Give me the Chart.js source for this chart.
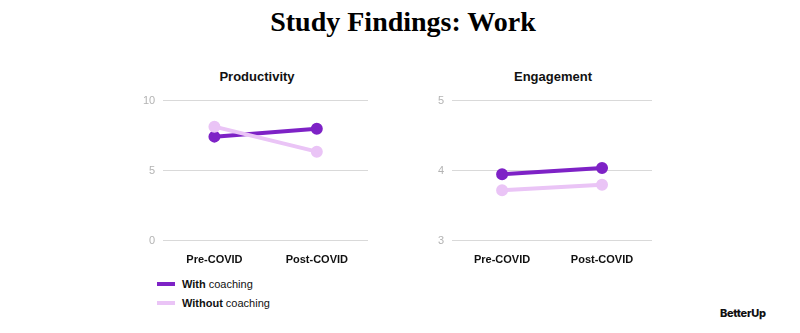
<!DOCTYPE html>
<html lang="en">
<head>
  <meta charset="UTF-8">
  <title>Study Findings: Work</title>
  <style>
    * { box-sizing: border-box; margin: 0; padding: 0; }
    body { width: 800px; height: 333px; background: #fff; position: relative; overflow: hidden;
      font-family: "Liberation Sans", Arial, sans-serif; color: #111; }
    h1 { position: absolute; left: 0; width: 806px; top: 6px; text-align: center;
      font-family: "Liberation Serif", "Times New Roman", serif; font-weight: bold; font-size: 28px; color: #000; }
    .chart-title { position: absolute; top: 69px; width: 200px; text-align: center;
      font-size: 13px; font-weight: bold; color: #111; }
    .chart-box { position: absolute; top: 86px; height: 186px; }
    #box-prod { left: 135px; width: 241px; }
    #box-eng { left: 424px; width: 236px; }
    .legend { position: absolute; left: 157px; top: 274px; font-size: 11px; }
    .legend div { display: flex; align-items: center; height: 19px; }
    .legend span.sw { display: inline-block; width: 18px; height: 4px; margin-right: 7px; }
    .legend b { margin-right: 3px; }
    .logo { position: absolute; left: 720px; top: 306px; font-family: Inter, "Liberation Sans", sans-serif;
      font-weight: 800; font-size: 11px; letter-spacing: -0.3px; color: #111; }
  </style>
</head>
<body>
  <h1>Study Findings: Work</h1>
  <div class="chart-title" style="left:157px">Productivity</div>
  <div class="chart-title" style="left:453px">Engagement</div>
  <div class="chart-box" id="box-prod"><canvas id="prodChart"></canvas></div>
  <div class="chart-box" id="box-eng"><canvas id="engChart"></canvas></div>
  <div class="legend">
    <div><span class="sw" style="background:#7e22c6"></span><b>With</b> coaching</div>
    <div><span class="sw" style="background:#eac4f6"></span><b>Without</b> coaching</div>
  </div>
  <div class="logo">BetterUp</div>

  <script src="https://cdn.jsdelivr.net/npm/chart.js"></script>
  <script>
    const periods = ['Pre-COVID', 'Post-COVID'];
    const seriesNames = ['With coaching', 'Without coaching'];
    const prodWith = [7.43, 8.0];
    const prodWithout = [8.14, 6.36];
    const engWith = [3.95, 4.04];
    const engWithout = [3.72, 3.80];

    const darkPurple = '#7e22c6';
    const lightPurple = '#eac4f6';

    function makeDataset(label, data, color) {
      return {
        label: label,
        data: data,
        borderColor: color,
        backgroundColor: color,
        borderWidth: 4,
        pointRadius: 4,
        pointHoverRadius: 4,
        tension: 0
      };
    }

    function makeChart(id, withData, withoutData, yMin, yMax, step, padLeft) {
      return new Chart(document.getElementById(id), {
        type: 'line',
        data: {
          labels: periods,
          datasets: [
            makeDataset(seriesNames[1], withoutData, lightPurple),
            makeDataset(seriesNames[0], withData, darkPurple)
          ]
        },
        options: {
          responsive: true,
          maintainAspectRatio: false,
          animation: false,
          layout: { padding: { left: padLeft, right: 6, top: 0, bottom: 0 } },
          plugins: {
            legend: { display: false },
            tooltip: { enabled: false }
          },
          scales: {
            x: {
              offset: true,
              grid: { display: false },
              border: { display: false },
              ticks: {
                color: '#111',
                font: { family: 'Liberation Sans', size: 11, weight: 'bold' },
                padding: 5
              }
            },
            y: {
              min: yMin,
              max: yMax,
              border: { display: false },
              grid: { color: '#d9d9d9', drawTicks: false, lineWidth: 1 },
              ticks: {
                stepSize: step,
                color: '#b3b3b3',
                font: { family: 'Liberation Sans', size: 11 },
                padding: 8
              }
            }
          }
        }
      });
    }

    makeChart('prodChart', prodWith, prodWithout, 0, 10, 5, 0);
    makeChart('engChart', engWith, engWithout, 3, 5, 1, 6);
  </script>
</body>
</html>
